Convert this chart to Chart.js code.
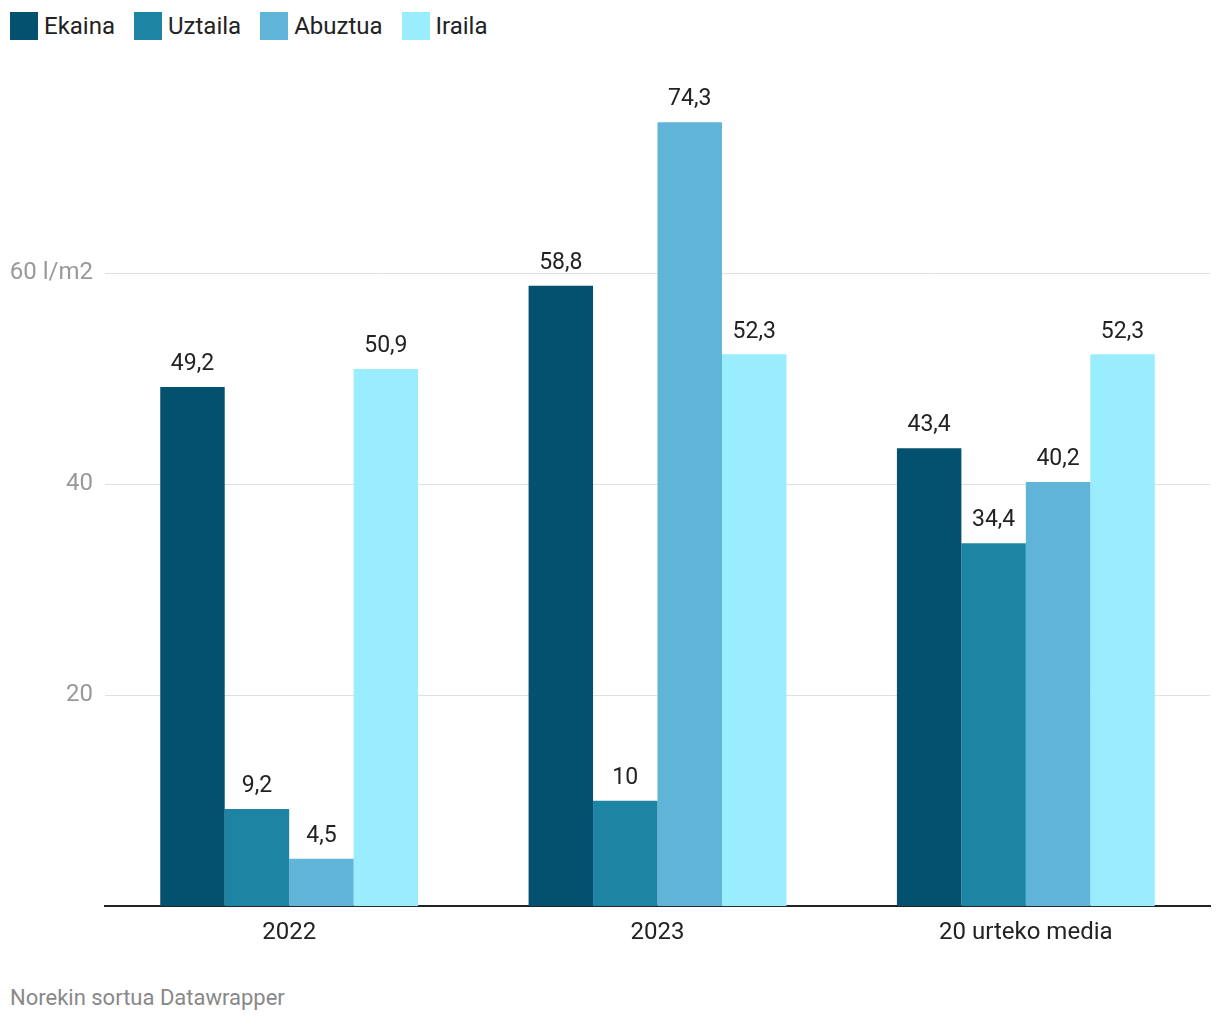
<!DOCTYPE html>
<html>
<head>
<meta charset="utf-8">
<script src="https://cdn.jsdelivr.net/npm/chart.js@4.4.1/dist/chart.umd.min.js"></script>
<style>
html,body{margin:0;padding:0;background:#fff;}
body{width:1220px;height:1020px;position:relative;overflow:hidden;font-family:Roboto,sans-serif;}
#wrap{position:absolute;left:0;top:0;width:1220px;height:960px;}
#legend{position:absolute;left:10px;top:12px;display:flex;font-size:24px;color:#222;}
#legend .it{display:flex;align-items:center;margin-right:19px;}
#legend .sw{width:28px;height:28px;margin-right:6px;}
#footer{position:absolute;left:10px;top:985px;font-size:22px;color:#888;}
</style>
</head>
<body>
<div id="legend"></div>
<div id="wrap"><canvas id="c" width="1220" height="960"></canvas></div>
<div id="footer">Norekin sortua Datawrapper</div>
<script>
const categories = ["2022", "2023", "20 urteko media"];
const seriesNames = ["Ekaina", "Uztaila", "Abuztua", "Iraila"];
const ekaina = [49.2, 58.8, 43.4];
const uztaila = [9.2, 10, 34.4];
const abuztua = [4.5, 74.3, 40.2];
const iraila = [50.9, 52.3, 52.3];
const yTicks = [20, 40, 60];
const colors = ["#03506f", "#1e84a4", "#60b4d8", "#9aedff"];

const legend = document.getElementById('legend');
seriesNames.forEach((n,i)=>{
  const d=document.createElement('div');d.className='it';
  d.innerHTML='<div class="sw" style="background:'+colors[i]+'"></div><span>'+n+'</span>';
  legend.appendChild(d);
});

const fmt = v => String(v).replace('.', ',');

const labelPlugin = {
  id:'vlabels',
  afterDatasetsDraw(chart){
    const ctx=chart.ctx;
    ctx.save();
    ctx.font='23px Roboto';
    ctx.fillStyle='#222';
    ctx.textAlign='center';
    ctx.textBaseline='bottom';
    chart.data.datasets.forEach((ds,i)=>{
      chart.getDatasetMeta(i).data.forEach((bar,j)=>{
        ctx.fillText(fmt(ds.data[j]), bar.x, bar.y-11);
      });
    });
    ctx.restore();
  }
};

const allSeries=[ekaina,uztaila,abuztua,iraila];
new Chart(document.getElementById('c'),{
  type:'bar',
  data:{
    labels:categories,
    datasets:allSeries.map((d,i)=>({label:seriesNames[i],data:d,backgroundColor:colors[i],borderWidth:0,categoryPercentage:0.7,barPercentage:1.0}))
  },
  options:{
    responsive:false,
    animation:false,
    layout:{padding:{top:62,left:10,right:10,bottom:1}},
    plugins:{legend:{display:false},tooltip:{enabled:false}},
    scales:{
      x:{
        grid:{display:false,drawTicks:false},
        border:{display:true,color:'#222',width:2},
        ticks:{font:{family:'Roboto',size:24},color:'#222',padding:12}
      },
      y:{
        min:0,max:80,
        afterBuildTicks(scale){scale.ticks=yTicks.map(v=>({value:v}));},
        afterFit(scale){scale.width=95;},
        grid:{color:'#e0e0e0',lineWidth:1,drawTicks:false},
        border:{display:false},
        ticks:{font:{family:'Roboto',size:24},color:'#999',padding:12,
          callback:(v)=> v===60 ? '60 l/m2' : String(v)}
      }
    }
  },
  plugins:[labelPlugin]
});
</script>
</body>
</html>
